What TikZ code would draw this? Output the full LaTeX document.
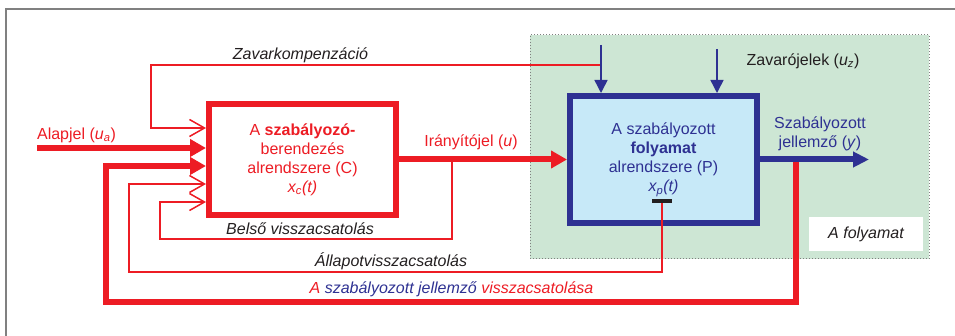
\documentclass[tikz,border=0pt]{standalone}
\usepackage{fontspec}
\setmainfont{Liberation Sans}
\usetikzlibrary{arrows.meta}
\definecolor{cred}{HTML}{ED1C24}
\definecolor{cblue}{HTML}{2E3192}
\definecolor{cgreen}{HTML}{CDE6D4}
\definecolor{clight}{HTML}{C7E9F8}
\definecolor{cframe}{HTML}{808080}
\definecolor{ctext}{HTML}{231F20}
\begin{document}
\begin{tikzpicture}[x=1pt,y=-1pt,
  every node/.style={font=\fontsize{16}{19}\selectfont, inner sep=0pt},
  redthick/.style={line width=6pt, draw=cred},
  redthin/.style={line width=1.5pt, draw=cred},
  bluethick/.style={line width=6pt, draw=cblue},
  bluethin/.style={line width=1.5pt, draw=cblue},
  filltip/.style={-{Triangle[length=16pt,width=17pt]}},
  bluetip/.style={-{Triangle[length=16pt,width=15pt]}},
  smalltip/.style={-{Triangle[length=13pt,width=13pt]}},
  opentip/.style={-{Straight Barb[length=15pt,width=17pt]}},
  block/.style={line width=6pt, minimum width=187pt, align=center},
  remark/.style={text=ctext, font=\fontsize{16}{19}\selectfont\itshape}
]
\useasboundingbox (0,0) rectangle (955,336);

% process area
\node[draw=cframe, dotted, line width=1pt, fill=cgreen,
      minimum width=399pt, minimum height=224pt] (area) at (729.5,147) {};
\node[fill=white, minimum width=114pt, minimum height=34pt, remark] (arealabel) at (866,234) {A folyamat};

% outer frame
\draw[cframe, line width=1.5pt] (6,336) -- (6,9) -- (955,9);

% blocks
\node[block, draw=cred, fill=white, minimum height=111pt, text=cred] (C) at (302.5,159.5)
  {A \textbf{szabályozó-}\\berendezés\\alrendszere (C)\\\textit{x\textsubscript{c}(t)}};
\node[block, draw=cblue, fill=clight, minimum height=127pt, text=cblue] (P) at (663.5,159.5)
  {A szabályozott\\\textbf{folyamat}\\alrendszere (P)\\\textit{x\textsubscript{p}(t)}};

% disturbance compensation
\coordinate (zk0) at (601,65);
\coordinate (zk1) at (151,65);
\coordinate (zk2) at (151,128);
\draw[redthin, opentip] (zk0) -- (zk1) -- (zk2) -- (zk2 -| C.west);

% reference input
\coordinate (ua) at (37,148);
\draw[redthick, filltip] (ua) -- (ua -| C.west);

% main feedback of the controlled variable
\coordinate (y0) at (796,159.5);
\coordinate (y1) at (796,302);
\coordinate (y2) at (106,302);
\coordinate (y3) at (106,166);
\draw[redthick, filltip] (y0) -- (y1) -- (y2) -- (y3) -- (y3 -| C.west);

% control signal
\draw[redthick, filltip] (C.east) -- (P.west);

% inner feedback
\coordinate (b0) at (452,159.5);
\coordinate (b1) at (452,239);
\coordinate (b2) at (160,239);
\coordinate (b3) at (160,202);
\draw[redthin, opentip] (b0) -- (b1) -- (b2) -- (b3) -- (b3 -| C.west);

% state feedback
\node[fill=ctext, minimum width=20pt, minimum height=4pt] (tab) at (662,201) {};
\coordinate (s1) at (662,272);
\coordinate (s2) at (129,272);
\coordinate (s3) at (129,184);
\draw[redthin, opentip] (tab.south) -- (s1) -- (s2) -- (s3) -- (s3 -| C.west);

% disturbances
\coordinate (d1) at (601,45);
\coordinate (d2) at (717,49);
\draw[bluethin, smalltip] (d1) -- (d1 |- P.north);
\draw[bluethin, smalltip] (d2) -- (d2 |- P.north);

% output
\coordinate (yout) at (869,159.5);
\draw[bluethick, bluetip] (P.east) -- (yout);

% labels
\node[text=cred] (lua) at (76.5,135) {Alapjel (\textit{u}\textsubscript{\textit{a}})};
\node[text=cred] (lu) at (471,142) {Irányítójel (\textit{u})};
\node[remark] (lzk) at (300.5,55) {Zavarkompenzáció};
\node[text=ctext] (luz) at (803,61) {Zavarójelek (\textit{u}\textsubscript{\textit{z}})};
\node[text=cblue, align=center] (ly) at (820,133.5) {Szabályozott\\jellemző (\textit{y})};
\node[remark] (lb) at (300,229) {Belső visszacsatolás};
\node[remark] (ls) at (391,261) {Állapotvisszacsatolás};
\node[remark] (lf) at (451.5,289) {\textcolor{cred}{A} \textcolor{cblue}{szabályozott jellemző} \textcolor{cred}{visszacsatolása}};
\end{tikzpicture}
\end{document}
